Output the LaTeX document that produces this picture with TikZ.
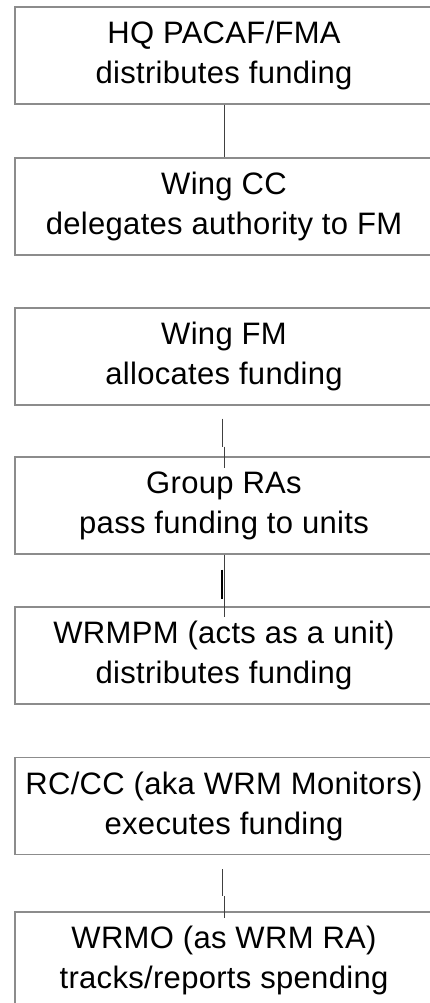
\documentclass[tikz,border=0pt]{standalone}
\usepackage{fontspec}
\setmainfont{Liberation Sans}[LetterSpace=1]
\definecolor{boxline}{RGB}{140,140,140}
\definecolor{connline}{RGB}{64,64,64}
\begin{document}
\begin{tikzpicture}[x=1pt,y=-1pt,
  stepbox/.style={draw=boxline,line width=1.4pt,rectangle,minimum width=418pt,minimum height=97pt,
    align=center,inner sep=0pt,font=\fontsize{31}{40}\selectfont,text=black},
  conn/.style={draw=connline,line width=1pt},
  thickconn/.style={draw=black,line width=2pt}]
\useasboundingbox (0,0) rectangle (430,1003);
\clip (0,0) rectangle (430,1003);
\fill[white] (0,0) rectangle (430,1003);
\node[stepbox] (b1) at (224,55.5) {HQ PACAF/FMA\\distributes funding};
\node[stepbox] (b2) at (224,206.5) {Wing CC\\delegates authority to FM};
\node[stepbox] (b3) at (224,356.5) {Wing FM\\allocates funding};
\node[stepbox] (b4) at (224,505.5) {Group RAs\\pass funding to units};
\node[stepbox] (b5) at (224,655.5) {WRMPM (acts as a unit)\\distributes funding};
\node[stepbox] (b6) at (224,806) {RC/CC (aka WRM Monitors)\\executes funding};
\node[stepbox] (b7) at (224,960.5) {WRMO (as WRM RA)\\tracks/reports spending};
% connectors
\draw[conn] (b1.south) -- (b2.north);
\draw[conn] ([xshift=-2pt,yshift=-13pt]b3.south) -- ([xshift=-2pt,yshift=-41pt]b3.south)
  coordinate (j3);
\draw[conn] (j3 -| b4.north) -- ([yshift=-12pt]b4.north);
\draw[conn] (b4.south) -- ([yshift=-11pt]b5.north);
\draw[thickconn] ([xshift=-2pt,yshift=-15pt]b4.south) -- ([xshift=-2pt,yshift=-44pt]b4.south);
\draw[conn] ([xshift=-2pt,yshift=-14pt]b6.south) -- ([xshift=-2pt,yshift=-41pt]b6.south)
  coordinate (j6);
\draw[conn] (j6 -| b7.north) -- ([yshift=-7pt]b7.north);
\end{tikzpicture}
\end{document}
